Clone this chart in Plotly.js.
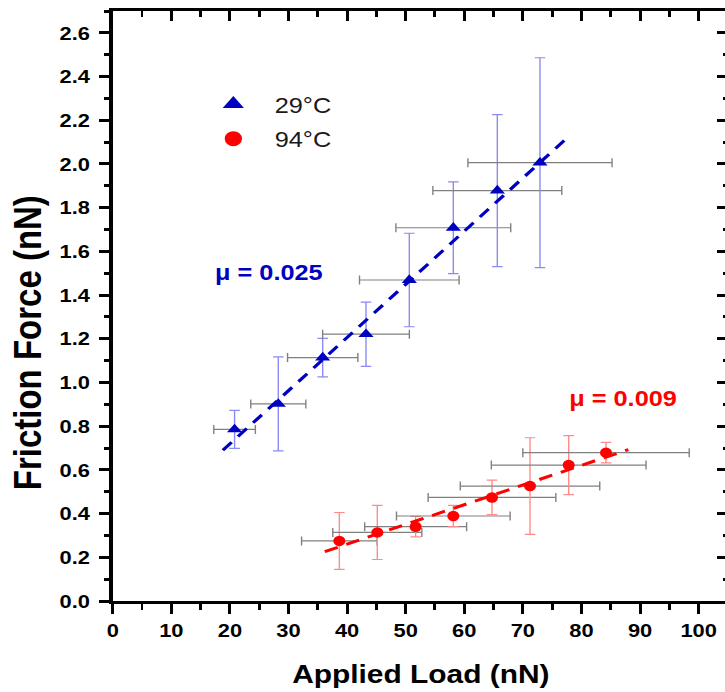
<!DOCTYPE html>
<html>
<head>
<meta charset="utf-8">
<script src="https://cdn.plot.ly/plotly-3.0.1.min.js"></script>
<style>
html,body{margin:0;padding:0;overflow:hidden;background:#fff;width:725px;height:692px}
#plot{width:634px;height:692px;transform:scaleX(1.15);transform-origin:0 0}
</style>
</head>
<body>
<div id="plot"></div>
<script>
// 29°C series (blue triangles)
var blueX    = [20.8, 28.26, 35.84, 43.23, 50.62, 58.13, 65.64, 72.92];
var blueY    = [0.785, 0.902, 1.114, 1.221, 1.469, 1.708, 1.878, 2.006];
var blueXerr = [3.55, 4.7, 6.0, 7.4, 8.5, 9.8, 11.0, 12.3];
var blueYerr = [0.087, 0.215, 0.088, 0.147, 0.214, 0.21, 0.348, 0.48];
// 94°C series (red circles)
var redX    = [38.68, 45.16, 51.70, 58.13, 64.73, 71.22, 77.82, 84.19];
var redY    = [0.275, 0.314, 0.340, 0.389, 0.474, 0.526, 0.622, 0.679];
var redXerr = [6.45, 7.6, 8.7, 9.7, 10.9, 11.9, 13.2, 14.2];
var redYerr = [0.13, 0.124, 0.047, 0.049, 0.079, 0.221, 0.135, 0.047];
// linear fits (end points)
var blueFitX = [18.8, 77.7];
var blueFitY = [0.69, 2.123];
var redFitX  = [36.2, 88.0];
var redFitY  = [0.226, 0.693];
// labels
var seriesNames = ['29\u00b0C', '94\u00b0C'];
var muLabels = ['\u03bc = 0.025', '\u03bc = 0.009'];
var xTitle = 'Applied Load (nN)';
var yTitle = 'Friction Force (nN)';

var BLUE = '#0000c0', RED = '#ff0000';
var FONT = 'Liberation Sans, Arial, sans-serif';

var traces = [
  {x: blueX, y: blueY, type: 'scatter', mode: 'markers', showlegend: false,
   marker: {symbol: 'triangle-up', size: 11.5, color: BLUE},
   error_x: {type: 'data', array: blueXerr, color: '#808080', thickness: 1.2, width: 4.5},
   error_y: {type: 'data', array: blueYerr, color: '#8a8af2', thickness: 1.2, width: 4.6}},
  {x: redX, y: redY, type: 'scatter', mode: 'markers', showlegend: false,
   marker: {symbol: 'circle', size: 10.5, color: RED},
   error_x: {type: 'data', array: redXerr, color: '#808080', thickness: 1.2, width: 4.5},
   error_y: {type: 'data', array: redYerr, color: '#ff8a8a', thickness: 1.2, width: 4.6}},
  {x: blueFitX, y: blueFitY, type: 'scatter', mode: 'lines', showlegend: false,
   line: {color: BLUE, width: 3, dash: '11px,8px'}},
  {x: redFitX, y: redFitY, type: 'scatter', mode: 'lines', showlegend: false,
   line: {color: RED, width: 3, dash: '12px,8px'}},
  {x: [null], y: [null], type: 'scatter', mode: 'markers', name: seriesNames[0], legendgroup: 'a',
   marker: {symbol: 'triangle-up', size: 16, color: BLUE}},
  {x: [null], y: [null], type: 'scatter', mode: 'markers', name: seriesNames[1], legendgroup: 'b',
   marker: {symbol: 'circle', size: 15, color: RED}},
  // empty trace so the mirrored top/right frame axes are drawn
  {x: [null], y: [null], type: 'scatter', mode: 'markers', xaxis: 'x2', yaxis: 'y2',
   showlegend: false, hoverinfo: 'skip'}
];

var axCommon = {
  showgrid: false, zeroline: false, showline: true, linecolor: '#000',
  tickcolor: '#000', ticks: 'outside'
};

var layout = {
  width: 634, height: 692,
  margin: {l: 98, r: 1, t: 11, b: 91},
  paper_bgcolor: '#fff', plot_bgcolor: '#fff',
  font: {family: FONT, color: '#000'},
  showlegend: true,
  legend: {x: 0.1288, y: 0.8775, xanchor: 'left', yanchor: 'top', bgcolor: 'rgba(0,0,0,0)',
           font: {family: FONT, size: 22, color: '#1a1a1a'}, itemwidth: 62, tracegroupgap: 3},
  xaxis: Object.assign({}, axCommon, {
    range: [0, 105], dtick: 10, tick0: 0, ticklen: 10, tickwidth: 2.6, linewidth: 3,
    tickfont: {family: FONT, size: 19, color: '#000', weight: 'bold'},
    minor: {dtick: 5, ticklen: 5.5, tickwidth: 2.6, ticks: 'outside', tickcolor: '#000'}
  }),
  yaxis: Object.assign({}, axCommon, {
    range: [0, 2.7], dtick: 0.2, tick0: 0, tickformat: '.1f', ticklen: 9.2, tickwidth: 3, linewidth: 2.8,
    tickfont: {family: FONT, size: 19, color: '#000', weight: 'bold'}, ticklabelstandoff: 4,
    minor: {dtick: 0.1, ticklen: 4.5, tickwidth: 3, ticks: 'outside', tickcolor: '#000'}
  }),
  xaxis2: {overlaying: 'x', anchor: 'y2', side: 'top', range: [0, 105], dtick: 10, tick0: 0,
    showgrid: false, zeroline: false, showline: true, linecolor: '#000', linewidth: 3,
    ticks: 'inside', ticklen: 10, tickwidth: 2.6, tickcolor: '#000', showticklabels: false,
    minor: {dtick: 5, ticklen: 5.5, tickwidth: 2.6, ticks: 'inside', tickcolor: '#000'}},
  yaxis2: {overlaying: 'y', anchor: 'x2', side: 'right', range: [0, 2.7], dtick: 0.2, tick0: 0,
    showgrid: false, zeroline: false, showline: true, linecolor: '#000', linewidth: 2.8,
    ticks: 'inside', ticklen: 9.2, tickwidth: 3, tickcolor: '#000', showticklabels: false,
    minor: {dtick: 0.1, ticklen: 4.5, tickwidth: 3, ticks: 'inside', tickcolor: '#000'}},
  annotations: [
    {xref: 'x', yref: 'y', x: 17.07, y: 1.504, xanchor: 'left', yanchor: 'middle', showarrow: false,
     text: muLabels[0], font: {family: FONT, size: 22, color: BLUE, weight: 'bold'}},
    {xref: 'x', yref: 'y', x: 77.58, y: 0.927, xanchor: 'left', yanchor: 'middle', showarrow: false,
     text: muLabels[1], font: {family: FONT, size: 22, color: RED, weight: 'bold'}},
    {xref: 'paper', yref: 'paper', x: 0.5, y: -0.1237, xanchor: 'center', yanchor: 'middle', showarrow: false,
     text: xTitle, font: {family: FONT, size: 26, color: '#000', weight: 'bold'}},
    {xref: 'paper', yref: 'paper', x: -0.1378, y: 0.4373, xanchor: 'center', yanchor: 'middle', showarrow: false,
     textangle: -90, text: yTitle, font: {family: FONT, size: 33, color: '#000', weight: 'bold'}}
  ]
};

Plotly.newPlot('plot', traces, layout, {displayModeBar: false, staticPlot: true});
</script>
</body>
</html>
